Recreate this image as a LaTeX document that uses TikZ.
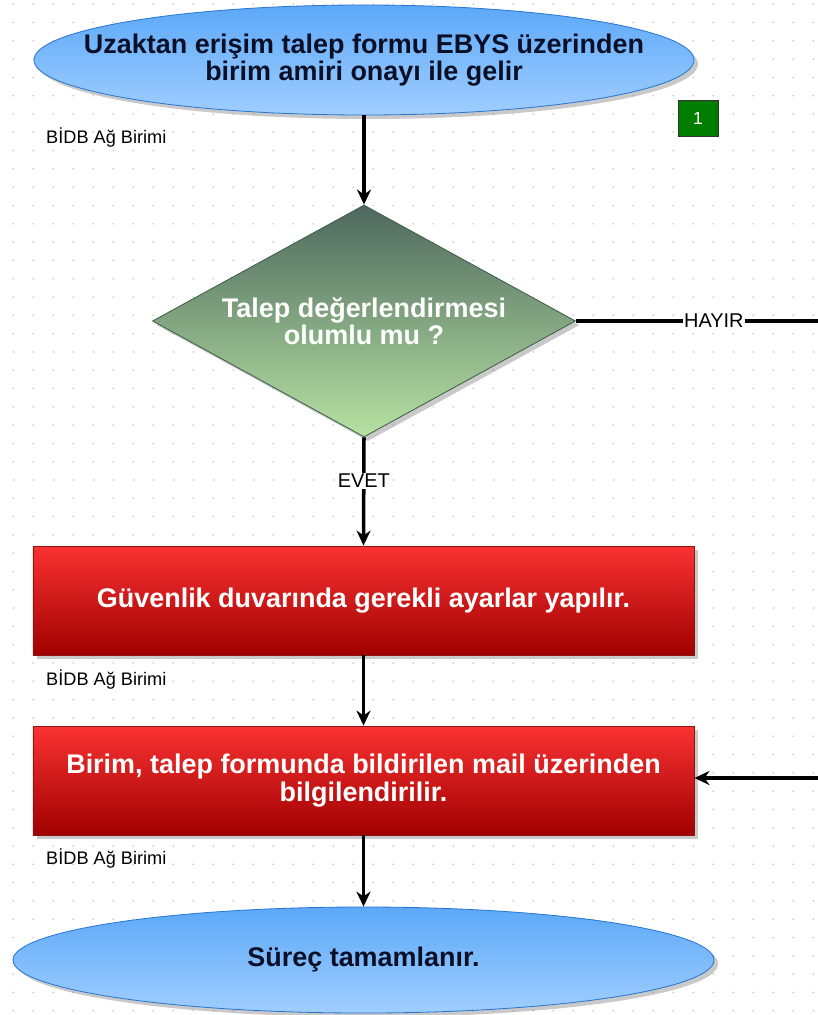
\documentclass[tikz,border=0pt]{standalone}
\usepackage{fontspec}
\setmainfont{Liberation Sans}
\usetikzlibrary{shapes.geometric,shadows,arrows.meta}
\definecolor{skytop}{RGB}{92,168,248}
\definecolor{skybot}{RGB}{160,206,255}
\definecolor{skyedge}{RGB}{40,118,210}
\definecolor{sagetop}{RGB}{78,104,94}
\definecolor{sagebot}{RGB}{182,226,162}
\definecolor{sageedge}{RGB}{62,92,72}
\definecolor{redtop}{RGB}{250,50,50}
\definecolor{redbot}{RGB}{160,0,0}
\definecolor{rededge}{RGB}{140,20,20}
\definecolor{tagfill}{RGB}{0,125,0}
\definecolor{griddot}{RGB}{200,200,200}
\definecolor{inkdark}{RGB}{10,15,40}

\begin{document}
\begin{tikzpicture}[x=0.03cm,y=-0.03cm]
  \tikzset{
    shade/.style={drop shadow={shadow xshift=0.12cm, shadow yshift=-0.12cm, opacity=0.35, fill=black!60}},
    term/.style={ellipse, draw=skyedge, line width=0.7pt, top color=skytop, bottom color=skybot, minimum width=19.8cm, minimum height=3.3cm, shade},
    decision/.style={diamond, aspect=1.82, draw=sageedge, line width=0.7pt, top color=sagetop, bottom color=sagebot, minimum width=12.69cm, minimum height=6.96cm, inner sep=0pt, shade},
    task/.style={rectangle, draw=rededge, line width=0.7pt, top color=redtop, bottom color=redbot, minimum width=19.83cm, minimum height=3.27cm, shade},
    bigtxt/.style={align=center, font=\fontsize{23pt}{23.5pt}\selectfont\bfseries},
    darktxt/.style={bigtxt, text=inkdark},
    lighttxt/.style={bigtxt, text=white},
    unit/.style={anchor=west, inner sep=0pt, font=\fontsize{15.5pt}{17pt}\selectfont},
    tag/.style={draw=black!80, line width=0.8pt, fill=tagfill, text=white, minimum width=1.2cm, minimum height=1.08cm, inner sep=0pt, font=\fontsize{15pt}{17pt}\selectfont},
    line/.style={line width=3pt},
    flow/.style={line, -{Stealth[length=0.45cm, width=0.42cm]}},
    tip/.style={fill=white, inner sep=1pt, font=\fontsize{17pt}{19pt}\selectfont}
  }
\useasboundingbox (0,0) rectangle (818,1015);
\fill[white] (0,0) rectangle (818,1015);
% dotted grid
\foreach \gx in {0,...,40} \foreach \gy in {0,...,55}
  \fill[griddot] ({13.3+20*\gx},{4.2+18.3*\gy}) circle (0.8pt);
% shapes
\node[term] (start) at (364,60) {};
\node[darktxt] (starttxt) at (start) {Uzaktan erişim talep formu EBYS üzerinden\\birim amiri onayı ile gelir};
\node[tag] (one) at (698,118) {1};
\node[unit] (unit1) at (46,138) {BİDB Ağ Birimi};
\node[decision] (check) at (364,321) {};
\node[lighttxt] (checktxt) at (check) {Talep değerlendirmesi\\olumlu mu ?};
\node[task] (firewall) at (363.5,600.5) {};
\node[lighttxt] (firewalltxt) at (firewall) {Güvenlik duvarında gerekli ayarlar yapılır.};
\node[unit] (unit2) at (46,679) {BİDB Ağ Birimi};
\node[task] (inform) at (363.5,780.5) {};
\node[lighttxt] (informtxt) at (inform) {Birim, talep formunda bildirilen mail üzerinden\\bilgilendirilir.};
\node[unit] (unit3) at (46,858) {BİDB Ağ Birimi};
\node[term, minimum width=21.03cm, minimum height=3.18cm] (done) at (363.5,960) {};
\node[darktxt] (donetxt) at (done) {Süreç tamamlanır.};
\coordinate (noside) at (818,321);
\coordinate (backin) at (818,778);
% connectors
\draw[flow] (start.south) -- (check.north);
\draw[line] (check.east) -- node[tip, pos=0.57] (no) {HAYIR} (noside);
\draw[flow] (check.south) -- node[tip, pos=0.4] (yes) {EVET} (firewall.north);
\draw[flow] (firewall.south) -- (inform.north);
\draw[flow] (backin) -- (inform.east |- backin);
\draw[flow] (inform.south) -- (done.north);
\end{tikzpicture}
\end{document}
